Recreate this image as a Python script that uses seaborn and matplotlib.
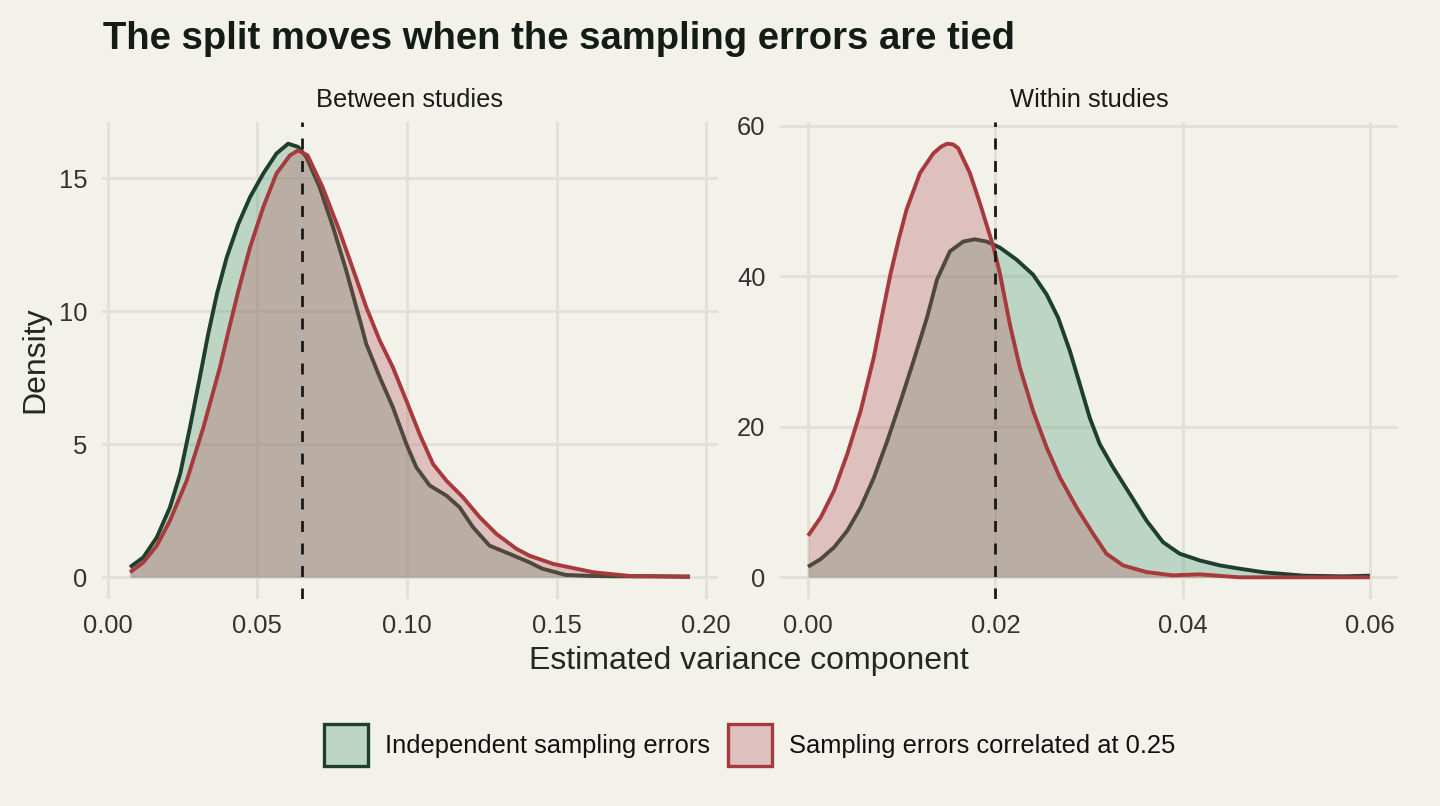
import numpy as np
import pandas as pd
import matplotlib
matplotlib.use("Agg")
import matplotlib.pyplot as plt
import seaborn as sns
from matplotlib.patches import Patch

# density curves (x = variance component, y = density)
between_indep_x = [0.00745, 0.0119, 0.0164, 0.0208, 0.0242, 0.0275, 0.0308, 0.0336, 0.0365, 0.0398,
                   0.0437, 0.0476, 0.052, 0.0564, 0.0603, 0.0636, 0.0664, 0.0708, 0.0753, 0.0797,
                   0.0846, 0.0864, 0.0909, 0.0953, 0.0998, 0.1031, 0.1076, 0.1132, 0.1176, 0.1221,
                   0.1276, 0.1343, 0.141, 0.1451, 0.153, 0.1623, 0.169, 0.182, 0.1946]
between_indep_y = [0.38, 0.75, 1.5, 2.63, 3.88, 5.64, 7.52, 9.15, 10.65, 12.03,
                   13.29, 14.29, 15.17, 15.92, 16.29, 16.17, 15.79, 14.66, 13.16, 11.53,
                   9.53, 8.77, 7.52, 6.39, 5.01, 4.14, 3.45, 3.07, 2.63, 1.88,
                   1.19, 0.88, 0.56, 0.33, 0.09, 0.05, 0.04, 0.04, 0.02]
between_corr_x = [0.00745, 0.0119, 0.0164, 0.0208, 0.0264, 0.032, 0.0375, 0.0404, 0.0437, 0.0476,
                  0.052, 0.0564, 0.0609, 0.0636, 0.0668, 0.0718, 0.0774, 0.0829, 0.0864, 0.0909,
                  0.0953, 0.0998, 0.1042, 0.1087, 0.1132, 0.1187, 0.1243, 0.1299, 0.1366, 0.141,
                  0.149, 0.1623, 0.1755, 0.1946]
between_corr_y = [0.19, 0.56, 1.19, 2.13, 3.63, 5.64, 7.89, 9.27, 10.78, 12.41,
                  13.91, 15.17, 15.85, 16.04, 15.85, 14.66, 13.03, 11.28, 10.15, 8.9,
                  7.89, 6.64, 5.39, 4.26, 3.63, 3.01, 2.26, 1.63, 1.07, 0.81,
                  0.5, 0.19, 0.04, 0.03]

within_indep_x = [0.0, 0.00135, 0.00277, 0.00419, 0.00561, 0.00703, 0.00845, 0.00988, 0.0113, 0.01272,
                  0.01378, 0.01515, 0.01657, 0.01781, 0.01906, 0.02048, 0.02226, 0.02403, 0.02546, 0.0267,
                  0.02795, 0.02901, 0.03008, 0.03115, 0.03257, 0.03435, 0.03613, 0.0379, 0.03968, 0.04181,
                  0.04395, 0.04608, 0.0487, 0.0529, 0.0571, 0.06]
within_indep_y = [1.41, 2.43, 3.98, 6.19, 9.28, 13.26, 18.1, 23.4, 28.9, 34.6,
                  39.6, 43.3, 44.6, 44.9, 44.6, 43.8, 42.2, 40.2, 37.6, 34.5,
                  30.1, 25.7, 21.2, 17.7, 14.6, 11.1, 7.55, 4.68, 3.14, 2.25,
                  1.59, 1.15, 0.66, 0.22, 0.13, 0.22]
within_corr_x = [0.0, 0.00135, 0.00277, 0.00419, 0.00561, 0.00703, 0.0079, 0.0088, 0.0097, 0.01053,
                 0.01195, 0.01337, 0.0142, 0.01486, 0.0155, 0.01603, 0.01728, 0.01835, 0.01977, 0.02048,
                 0.02155, 0.02261, 0.02403, 0.02546, 0.02688, 0.02866, 0.03043, 0.03186, 0.03363, 0.03613,
                 0.03897, 0.04181, 0.04466, 0.04608, 0.0529, 0.06]
within_corr_y = [5.52, 7.96, 11.5, 16.4, 22.1, 29.3, 34.8, 40.3, 45.0, 48.9,
                 53.7, 56.3, 57.2, 57.6, 57.5, 57.0, 53.7, 49.7, 44.0, 40.4,
                 33.6, 27.9, 22.1, 17.3, 13.3, 9.3, 5.8, 3.14, 1.59, 0.7,
                 0.26, 0.4, 0.13, 0.0, 0.0, 0.0]

panel_names = ["Between studies", "Within studies"]
series_names = ["Independent sampling errors", "Sampling errors correlated at 0.25"]
split_lines = [0.065, 0.02]
x_ticks = [[0.0, 0.05, 0.10, 0.15, 0.20], [0.0, 0.02, 0.04, 0.06]]
y_ticks = [[0, 5, 10, 15], [0, 20, 40, 60]]

bg = "#f2f1ea"
line_cols = ["#1e3f2c", "#a63a3d"]
fill_cols = ["#4f9c74", "#b65e61"]
fill_alpha = 0.32

sns.set_style("white", {"axes.facecolor": bg, "figure.facecolor": bg})
plt.rcParams["font.family"] = ["Liberation Sans", "DejaVu Sans"]

fig = plt.figure(figsize=(14.4, 8.06), dpi=100)
fig.patch.set_facecolor(bg)

panels = [
    [(between_indep_x, between_indep_y), (between_corr_x, between_corr_y)],
    [(within_indep_x, within_indep_y), (within_corr_x, within_corr_y)],
]
rects = [[102 / 1440, 1 - 599 / 806, 616 / 1440, 477 / 806],
         [780 / 1440, 1 - 599 / 806, 618 / 1440, 477 / 806]]

for i, curves in enumerate(panels):
    ax = fig.add_axes(rects[i])
    ax.set_facecolor(bg)
    z = 1
    for j, (xs, ys) in enumerate(curves):
        df = pd.DataFrame({"x": xs, "density": ys})
        ax.fill_between(df["x"], df["density"], color=fill_cols[j], alpha=fill_alpha, lw=0, zorder=z)
        sns.lineplot(data=df, x="x", y="density", ax=ax, color=line_cols[j], linewidth=2.8,
                     zorder=z + 1, solid_joinstyle="round", solid_capstyle="butt")
        z += 2
    ax.axvline(split_lines[i], color="#1a1a1a", lw=2.0, ls=(0, (3.95, 4.15)), zorder=10)

    allx = curves[0][0] + curves[1][0]
    ally = curves[0][1] + curves[1][1]
    xr = max(allx) - min(allx)
    ax.set_xlim(min(allx) - 0.05 * xr, max(allx) + 0.05 * xr)
    ax.set_ylim(-0.05 * max(ally), 1.05 * max(ally))

    ax.set_xticks(x_ticks[i])
    ax.set_xticklabels(["%.2f" % v for v in x_ticks[i]])
    ax.set_yticks(y_ticks[i])
    ax.tick_params(length=0, pad=10.5, labelsize=18.4, labelcolor="#333333")
    ax.grid(True, color="#e2e1d7", lw=2.2)
    ax.set_axisbelow(True)
    for s in ax.spines.values():
        s.set_visible(False)
    ax.set_xlabel("")
    ax.set_ylabel("")
    ax.set_title(panel_names[i], fontsize=18.4, color="#1a1a1a", pad=10.5)

fig.text(103 / 1440, 1 - 49.3 / 806, "The split moves when the sampling errors are tied",
         fontsize=27.5, fontweight="bold", color="#131c16", va="baseline", ha="left")
fig.text(35 / 1440, 1 - 360 / 806, "Density", rotation=90, fontsize=23, color="#222822",
         ha="center", va="center")
fig.text(749 / 1440, 1 - 669 / 806, "Estimated variance component", fontsize=23,
         color="#222822", ha="center", va="baseline")

handles = [Patch(facecolor=matplotlib.colors.to_rgba(fill_cols[k], fill_alpha),
                 edgecolor=line_cols[k], lw=2.4) for k in range(2)]
leg = fig.legend(handles, series_names, loc="center", bbox_to_anchor=(749.5 / 1440, 1 - 745 / 806),
                 ncol=2, frameon=False, fontsize=18.4, handlelength=1.72, handleheight=2.1,
                 handletextpad=0.66, columnspacing=0.7)
for t in leg.get_texts():
    t.set_color("#111111")

fig.savefig("out.png", dpi=100, facecolor=bg)
